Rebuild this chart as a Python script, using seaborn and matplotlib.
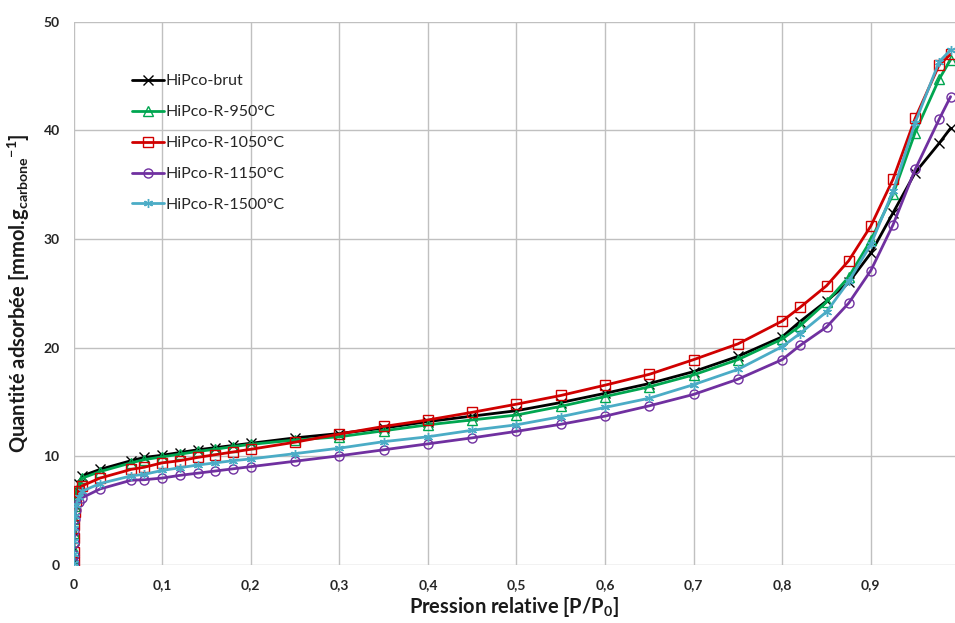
import matplotlib
matplotlib.use("Agg")
import matplotlib.pyplot as plt
import seaborn as sns
from matplotlib.ticker import FuncFormatter, MultipleLocator

# relative pressure points (shared by all samples)
pression = [0.00002, 0.0001, 0.0003, 0.0007, 0.0015, 0.003, 0.006, 0.01,
            0.03, 0.065, 0.08, 0.1, 0.12, 0.14, 0.16, 0.18, 0.2, 0.25,
            0.3, 0.35, 0.4, 0.45, 0.5, 0.55, 0.6, 0.65, 0.7, 0.75, 0.8,
            0.82, 0.85, 0.875, 0.9, 0.925, 0.95, 0.977, 0.99]

brut = [0.4, 1.5, 3.0, 4.3, 5.5, 6.5, 7.5, 8.2,
        8.8, 9.6, 9.9, 10.1, 10.35, 10.6, 10.8, 11.0, 11.2, 11.7,
        12.1, 12.6, 13.2, 13.7, 14.2, 14.95, 15.8, 16.7, 17.8, 19.2, 21.0,
        22.4, 24.3, 26.0, 28.7, 32.4, 36.1, 38.8, 40.2]
r950 = [0.4, 1.4, 2.9, 4.2, 5.4, 6.4, 7.3, 8.0,
        8.6, 9.4, 9.7, 9.95, 10.2, 10.45, 10.65, 10.9, 11.1, 11.5,
        11.8, 12.35, 12.9, 13.35, 13.8, 14.6, 15.5, 16.4, 17.5, 18.9, 20.8,
        22.0, 24.2, 26.5, 29.9, 34.1, 39.8, 44.7, 46.5]
r1050 = [0.3, 1.2, 2.5, 3.7, 4.9, 5.9, 6.8, 7.3,
         8.0, 8.8, 9.0, 9.4, 9.6, 9.9, 10.15, 10.4, 10.65, 11.3,
         12.05, 12.75, 13.35, 14.05, 14.8, 15.6, 16.55, 17.55, 18.9, 20.35, 22.45,
         23.7, 25.7, 28.0, 31.2, 35.5, 41.1, 46.0, 47.0]
r1150 = [0.2, 0.9, 2.0, 3.1, 4.2, 5.1, 5.8, 6.2,
         7.0, 7.8, 7.85, 8.0, 8.25, 8.45, 8.65, 8.85, 9.05, 9.55,
         10.05, 10.6, 11.15, 11.7, 12.3, 12.95, 13.7, 14.65, 15.7, 17.1, 18.9,
         20.2, 21.9, 24.1, 27.1, 31.3, 36.4, 41.0, 43.1]
r1500 = [0.2, 1.0, 2.2, 3.4, 4.5, 5.5, 6.3, 6.8,
         7.5, 8.2, 8.35, 8.7, 8.95, 9.2, 9.4, 9.6, 9.76, 10.25,
         10.75, 11.35, 11.8, 12.4, 12.9, 13.65, 14.5, 15.35, 16.6, 18.0, 20.1,
         21.3, 23.3, 26.1, 29.5, 34.4, 40.7, 46.3, 47.4]

labels = ["HiPco-brut", "HiPco-R-950°C", "HiPco-R-1050°C",
          "HiPco-R-1150°C", "HiPco-R-1500°C"]
series = [brut, r950, r1050, r1150, r1500]
colors = ["#000000", "#00A650", "#D00000", "#7030A0", "#4BACC6"]
markers = ["x", "^", "s", "o", (6, 2, 0)]

sns.set_style("white")
plt.rcParams["font.family"] = ["Lato", "DejaVu Sans"]
plt.rcParams["mathtext.fontset"] = "custom"
plt.rcParams["mathtext.rm"] = "Lato"
plt.rcParams["mathtext.bf"] = "Lato:bold"
plt.rcParams["mathtext.default"] = "bf"

fig = plt.figure(figsize=(9.55, 6.23), dpi=100)
ax = fig.add_axes([0.077, 0.0931, 0.923, 0.8721])

for lab, y, c, m in zip(labels, series, colors, markers):
    sns.lineplot(x=pression, y=y, ax=ax, color=c, marker=m, label=lab,
                 linewidth=2.0, markersize=6.5, mec=c, mfc="none", mew=1.0,
                 errorbar=None)

ax.set_xlim(0, 0.995)
ax.set_ylim(0, 50)
ax.xaxis.set_major_locator(MultipleLocator(0.1))
ax.yaxis.set_major_locator(MultipleLocator(10))
ax.xaxis.set_major_formatter(FuncFormatter(
    lambda v, p: "0" if abs(v) < 1e-9 else f"{v:.1f}".replace(".", ",")))
ax.grid(True, color="#C0C0C0", linewidth=1.0)
for s in ax.spines.values():
    s.set_visible(False)
ax.tick_params(axis="both", direction="out", length=4, width=1.0,
               color="#C0C0C0", labelsize=10, labelcolor="#262626", pad=6)
for t in ax.get_xticklabels() + ax.get_yticklabels():
    t.set_fontweight("bold")

ax.set_xlabel("Pression relative [P/P$_0$]", fontsize=14.5, fontweight="bold",
              color="#1a1a1a", labelpad=3)
ax.set_ylabel("Quantité adsorbée [mmol.g$_{carbone}{}^{-1}$]", fontsize=14.5,
              fontweight="bold", color="#1a1a1a", labelpad=8)

ax.legend(loc="upper left", bbox_to_anchor=(0.05, 0.93), frameon=False,
          fontsize=11.5, labelspacing=1.05, handlelength=2.0,
          handletextpad=0.1, labelcolor="#262626")

fig.savefig("out.png", dpi=100)
